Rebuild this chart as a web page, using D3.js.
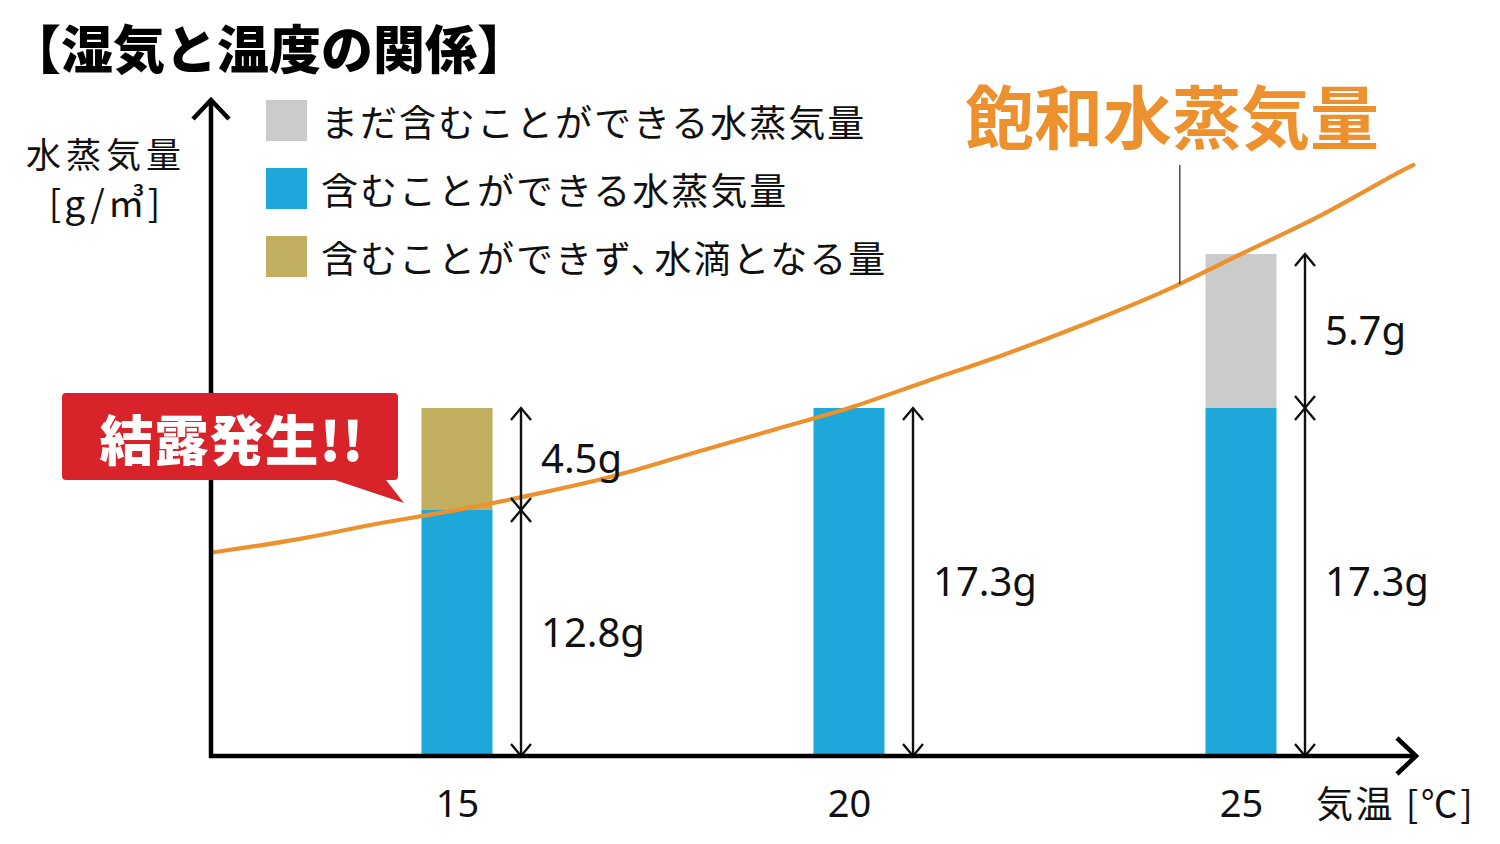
<!DOCTYPE html>
<html><head><meta charset="utf-8">
<script src="https://cdn.jsdelivr.net/npm/d3@7"></script>
<style>body{margin:0;background:#fff;} svg{display:block;}</style>
</head><body>
<svg id="c" width="1500" height="844"></svg>
<script>
// ---- data ----
const title = "【湿気と温度の関係】";
const yLabelLines = ["水蒸気量", "[g/㎥]"];
const xLabel = "気温 [℃]";
const curveLabel = "飽和水蒸気量";
const calloutText = "結露発生!!";
const legendLabels = ["まだ含むことができる水蒸気量", "含むことができる水蒸気量", "含むことができず、水滴となる量"];
const temps = [15, 20, 25];
const tickLabels = ["15", "20", "25"];
const held = [12.8, 17.3, 17.3];          // 含むことができる水蒸気量
const condensed = [4.5, 0, 0];            // 水滴となる量
const stillHoldable = [0, 0, 5.7];        // まだ含むことができる水蒸気量
const satTemps  = [11.9, 13, 14, 15, 16, 17, 18, 19, 20, 21, 22, 23, 24, 25, 26, 27, 27.2];
const satValues = [10.6, 11.3, 12.1, 12.8, 13.5, 14.3, 15.3, 16.3, 17.3, 18.3, 19.3, 20.4, 21.6, 23.0, 24.4, 26.0, 26.3];

// ---- style ----
const C = {gray:"#CBCBCB", blue:"#1DA8D9", gold:"#C2AE5F", orange:"#EC912D", red:"#D9232A", ink:"#111"};
const JP = "'Noto Sans CJK JP','Noto Sans',sans-serif";
const LAT = "'Noto Sans','Noto Sans CJK JP',sans-serif";

const svg = d3.select("#c");
const x0 = 211, yBase = 756, xEnd = 1418, yTop = 98;

const x = d3.scaleLinear().domain([temps[0], temps[2]]).range([457, 1241]);
const yDomain = [0, held[0], held[0] + condensed[0], held[2] + stillHoldable[2]];
const y = d3.scaleLinear().domain(yDomain).range([yBase, 510, 408, 254]);

// title
svg.append("text").attr("x", 9).attr("y", 46).attr("dominant-baseline", "central")
  .attr("font-family", JP).attr("font-weight", 900).attr("font-size", 52).attr("fill", "#000").text(title);

// y label
svg.append("text").attr("x", 106).attr("y", 152).attr("text-anchor", "middle").attr("dominant-baseline", "central")
  .attr("font-family", JP).attr("font-size", 35).attr("letter-spacing", 5).attr("fill", C.ink).text(yLabelLines[0]);
svg.append("text").attr("x", 106).attr("y", 201).attr("text-anchor", "middle").attr("dominant-baseline", "central")
  .attr("font-family", JP).attr("font-size", 37).attr("letter-spacing", 3).attr("fill", C.ink).text(yLabelLines[1]);

// legend
const legendColors = [C.gray, C.blue, C.gold];
const lg = svg.append("g");
legendLabels.forEach((t, i) => {
  const cy = 121 + i * 68;
  lg.append("rect").attr("x", 266).attr("y", cy - 21).attr("width", 41).attr("height", 41).attr("fill", legendColors[i]);
  const tx = lg.append("text").attr("x", 321).attr("y", cy).attr("dominant-baseline", "central")
    .attr("font-family", JP).attr("font-size", 37).attr("letter-spacing", 2).attr("fill", C.ink);
  const parts = t.split("、");
  parts.forEach((p, k) => {
    const ts = tx.append("tspan").text(k < parts.length - 1 ? p + "、" : p);
    if (k > 0) ts.attr("dx", -15);
  });
});

// bars
const barW = 71;
temps.forEach((t, i) => {
  const segs = [{a: 0, b: held[i], c: C.blue}];
  if (condensed[i] > 0) segs.push({a: held[i], b: held[i] + condensed[i], c: C.gold});
  if (stillHoldable[i] > 0) segs.push({a: held[i], b: held[i] + stillHoldable[i], c: C.gray});
  svg.selectAll(null).data(segs).enter().append("rect")
    .attr("x", x(t) - barW / 2).attr("width", barW)
    .attr("y", d => y(d.b)).attr("height", d => y(d.a) - y(d.b)).attr("fill", d => d.c);
});

// saturation curve
const line = d3.line().x(d => x(d[0])).y(d => y(d[1])).curve(d3.curveCatmullRom);
svg.append("path").datum(satTemps.map((t, i) => [t, satValues[i]]))
  .attr("d", line).attr("fill", "none").attr("stroke", C.orange).attr("stroke-width", 4.2).attr("stroke-linecap", "round");

// leader line + curve label
const leaderT = 24.22;
svg.append("line").attr("x1", x(leaderT)).attr("x2", x(leaderT)).attr("y1", 165).attr("y2", 284)
  .attr("stroke", "#222").attr("stroke-width", 1.2);
svg.append("text").attr("x", 965).attr("y", 114).attr("dominant-baseline", "central")
  .attr("font-family", JP).attr("font-weight", 700).attr("font-size", 69).attr("fill", C.orange).text(curveLabel);

// dimension arrows and labels
const dim = svg.append("g").attr("stroke", C.ink).attr("stroke-width", 2.4).attr("fill", "none");
temps.forEach((t, i) => {
  const ax = x(t) + 64;
  const extra = condensed[i] || stillHoldable[i];
  const segs = [[0, held[i]]];
  if (extra > 0) segs.push([held[i], held[i] + extra]);
  segs.forEach(([a, b]) => {
    const yb = y(a), yt = y(b);
    dim.append("line").attr("x1", ax).attr("x2", ax).attr("y1", yt).attr("y2", yb);
    dim.append("path").attr("d", `M${ax - 10},${yt + 12}L${ax},${yt}L${ax + 10},${yt + 12}`);
    dim.append("path").attr("d", `M${ax - 10},${yb - 12}L${ax},${yb}L${ax + 10},${yb - 12}`);
    svg.append("text").attr("x", ax + 20).attr("y", (yb + yt) / 2 - 2).attr("dominant-baseline", "central")
      .attr("font-family", LAT).attr("font-size", 40).attr("fill", C.ink).text(d3.format(".1f")(b - a) + "g");
  });
});

// axes
svg.append("line").attr("x1", x0).attr("x2", x0).attr("y1", yBase + 2).attr("y2", yTop + 2)
  .attr("stroke", "#000").attr("stroke-width", 4.5);
svg.append("path").attr("d", `M${x0 - 18},${yTop + 21}L${x0},${yTop + 2}L${x0 + 18},${yTop + 21}`)
  .attr("fill", "none").attr("stroke", "#000").attr("stroke-width", 4.5);
svg.append("line").attr("x1", x0 - 2).attr("x2", xEnd - 2).attr("y1", yBase).attr("y2", yBase)
  .attr("stroke", "#000").attr("stroke-width", 4.5);
svg.append("path").attr("d", `M${xEnd - 21},${yBase - 18}L${xEnd - 2},${yBase}L${xEnd - 21},${yBase + 18}`)
  .attr("fill", "none").attr("stroke", "#000").attr("stroke-width", 4.5);

const xAxis = d3.axisBottom(x).tickValues(temps).tickSize(0).tickFormat((d, i) => tickLabels[i]);
const gx = svg.append("g").attr("transform", `translate(0,${yBase})`).call(xAxis);
gx.select(".domain").remove();
gx.selectAll("text").attr("y", 46).attr("dy", null).attr("dominant-baseline", "central")
  .attr("font-family", LAT).attr("font-size", 38).attr("fill", C.ink);

svg.append("text").attr("x", 1316).attr("y", 802).attr("dominant-baseline", "central")
  .attr("font-family", JP).attr("font-size", 37).attr("letter-spacing", 2.5).attr("fill", C.ink).text(xLabel);

// callout
const cp = d3.path();
cp.moveTo(66, 393); cp.lineTo(394, 393); cp.quadraticCurveTo(398, 393, 398, 397);
cp.lineTo(398, 476); cp.quadraticCurveTo(398, 480, 394, 480); cp.lineTo(386, 480);
cp.lineTo(404, 503); cp.lineTo(335, 480); cp.lineTo(66, 480);
cp.quadraticCurveTo(62, 480, 62, 476); cp.lineTo(62, 397); cp.quadraticCurveTo(62, 393, 66, 393); cp.closePath();
svg.append("path").attr("d", cp.toString()).attr("fill", C.red);
svg.append("text").attr("x", 232).attr("y", 437).attr("text-anchor", "middle").attr("dominant-baseline", "central")
  .attr("font-family", JP).attr("font-weight", 900).attr("font-size", 54).attr("letter-spacing", 1).attr("fill", "#fff").text(calloutText);
</script>
</body></html>
